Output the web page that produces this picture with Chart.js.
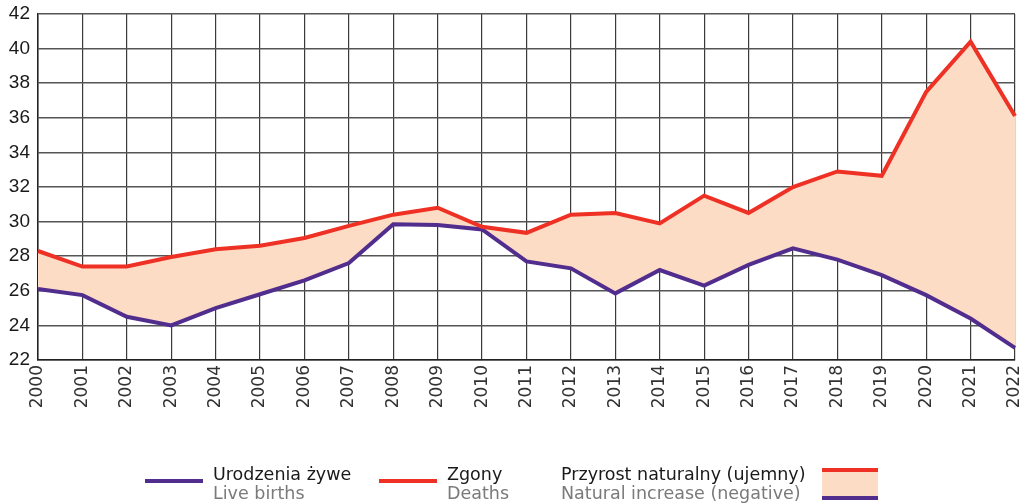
<!DOCTYPE html>
<html>
<head>
<meta charset="utf-8">
<script src="https://cdn.jsdelivr.net/npm/chart.js@4.4.1/dist/chart.umd.min.js"></script>
<style>
  html, body { margin: 0; padding: 0; background: #fff; }
  #wrap { position: relative; width: 1030px; height: 503px; }
  canvas { position: absolute; left: 0; top: 0; }
  .lg { position: absolute; font-family: "DejaVu Sans", sans-serif; font-size: 17.5px; line-height: 19px; white-space: nowrap; }
  .lg .pl { color: #1a1a1a; }
  .lg .en { color: #7a7a7a; }
  .ln { position: absolute; height: 4px; }
</style>
</head>
<body>
<div id="wrap">
  <canvas id="c" width="1030" height="503"></canvas>
  <div class="ln" style="left:145px;top:479px;width:58px;background:#512D8E;"></div>
  <div class="lg" style="left:213px;top:465px;"><div class="pl">Urodzenia żywe</div><div class="en">Live births</div></div>
  <div class="ln" style="left:379px;top:479px;width:58px;background:#EE3124;"></div>
  <div class="lg" style="left:447px;top:465px;"><div class="pl">Zgony</div><div class="en">Deaths</div></div>
  <div class="lg" style="left:561px;top:465px;"><div class="pl">Przyrost naturalny (ujemny)</div><div class="en">Natural increase (negative)</div></div>
  <div style="position:absolute;left:822px;top:468px;width:56px;height:32px;background:#FCDCC5;">
    <div style="position:absolute;left:0;top:0;width:56px;height:4px;background:#EE3124;"></div>
    <div style="position:absolute;left:0;bottom:0;width:56px;height:4px;background:#512D8E;"></div>
  </div>
</div>
<script>
const years = ["2000","2001","2002","2003","2004","2005","2006","2007","2008","2009","2010","2011","2012","2013","2014","2015","2016","2017","2018","2019","2020","2021","2022"];
const liveBirths = [26.1,25.75,24.5,24.0,25.0,25.8,26.6,27.6,29.85,29.8,29.55,27.7,27.3,25.85,27.2,26.3,27.5,28.45,27.8,26.9,25.75,24.4,22.7];
const deaths = [28.3,27.4,27.4,27.95,28.4,28.6,29.05,29.75,30.4,30.8,29.7,29.35,30.4,30.5,29.9,31.5,30.5,32.0,32.9,32.65,37.5,40.4,36.1];
const yTicks = [22,24,26,28,30,32,34,36,38,40,42];

const PURPLE = '#512D8E', RED = '#EE3124', PEACH = '#FCDCC5';

new Chart(document.getElementById('c'), {
  type: 'line',
  data: {
    labels: years,
    datasets: [
      { label: 'Urodzenia żywe', data: liveBirths, borderColor: PURPLE, borderWidth: 4, pointRadius: 0, tension: 0, fill: false, order: 1 },
      { label: 'Zgony', data: deaths, borderColor: RED, borderWidth: 4, pointRadius: 0, tension: 0, fill: { target: 0, above: PEACH, below: PEACH }, backgroundColor: PEACH, order: 0 }
    ]
  },
  options: {
    responsive: false,
    animation: false,
    devicePixelRatio: 1,
    layout: { padding: { top: 14, right: 15, left: 0, bottom: 0 } },
    plugins: { legend: { display: false }, tooltip: { enabled: false }, filler: { drawTime: 'beforeDatasetsDraw' } },
    scales: {
      x: {
        type: 'category',
        offset: false,
        grid: { color: '#3a3a3a', lineWidth: 1.2, drawTicks: false },
        border: { color: '#222', width: 1.5 },
        ticks: {
          color: '#333',
          font: { family: 'DejaVu Sans', size: 17 },
          maxRotation: 90, minRotation: 90,
          padding: 5,
          autoSkip: false
        },
        afterFit: (s) => { s.height = 143; s.paddingLeft = 0; s.paddingRight = 0; }
      },
      y: {
        min: 22, max: 42,
        afterBuildTicks: (s) => { s.ticks = yTicks.map(v => ({ value: v })); },
        grid: { color: '#555', lineWidth: 1.5, drawTicks: false },
        border: { color: '#222', width: 1.5 },
        ticks: {
          color: '#1a1a1a',
          font: { family: 'Liberation Sans', size: 19 },
          padding: 8
        },
        afterFit: (s) => { s.width = 38; s.paddingTop = 0; s.paddingBottom = 0; }
      }
    }
  }
});
</script>
</body>
</html>
